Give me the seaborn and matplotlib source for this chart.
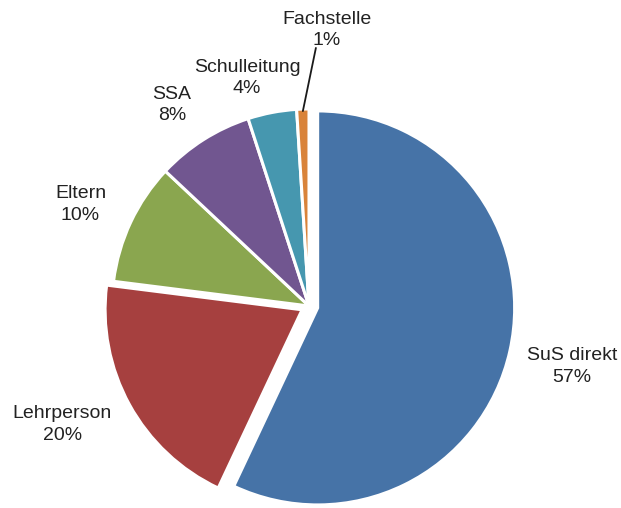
import numpy as np
import matplotlib
matplotlib.use("Agg")
import matplotlib.pyplot as plt
import seaborn as sns

# Share of first contacts by source
categories = ["SuS direkt", "Lehrperson", "Eltern", "SSA", "Schulleitung", "Fachstelle"]
shares = [57, 20, 10, 8, 4, 1]
pct_labels = ["57%", "20%", "10%", "8%", "4%", "1%"]

sns.set_theme(style="white")
plt.rcParams["font.family"] = ["Liberation Sans", "DejaVu Sans"]

palette = sns.color_palette(["#4673A7", "#A6403F", "#8AA64F", "#715690", "#4697AF", "#D9833A"])
explode = [0.045, 0.04, 0, 0, 0, 0]

W, H, DPI = 621, 508, 100
fig = plt.figure(figsize=(W / DPI, H / DPI), dpi=DPI)
ax = fig.add_axes([0, 0, 1, 1])

wedges, _ = ax.pie(
    shares,
    colors=palette,
    startangle=90,
    counterclock=False,
    explode=explode,
    radius=1.0,
    wedgeprops=dict(edgecolor="white", linewidth=2.2),
)
for w in wedges:
    w.set_clip_on(False)

# place the pie: centre at (309, 306) px from top-left, radius 197 px
cx, cy, R = 309, 306, 197
ax.set_xlim(-cx / R, (W - cx) / R)
ax.set_ylim(-(H - cy) / R, cy / R)
ax.set_aspect("auto")
ax.axis("off")

# label placement: distance from centre (in radii) and angular nudge (deg)
label_r = [1.37, 1.39, 1.27, 1.235, 1.20, 1.404]
label_rot = [-0.3, -3.1, 1.2, 1.9, 4.4, -5.5]
txt_color = "#222222"
for w, name, pct, r, dth in zip(wedges, categories, pct_labels, label_r, label_rot):
    mid = np.deg2rad((w.theta1 + w.theta2) / 2 + dth)
    x, y = r * np.cos(mid), r * np.sin(mid)
    ax.text(x, y, f"{name}\n{pct}", ha="center", va="center",
            fontsize=14, color=txt_color, linespacing=1.35)

# leader line to the smallest slice
w = wedges[-1]
mid = np.deg2rad((w.theta1 + w.theta2) / 2)
x0, y0 = 0.99 * np.cos(mid), 0.99 * np.sin(mid)
ax.plot([x0, 0.035], [y0, 1.31], color="#1a1a1a", lw=1.3, clip_on=False)

fig.savefig("out.png", dpi=DPI, facecolor="white")
